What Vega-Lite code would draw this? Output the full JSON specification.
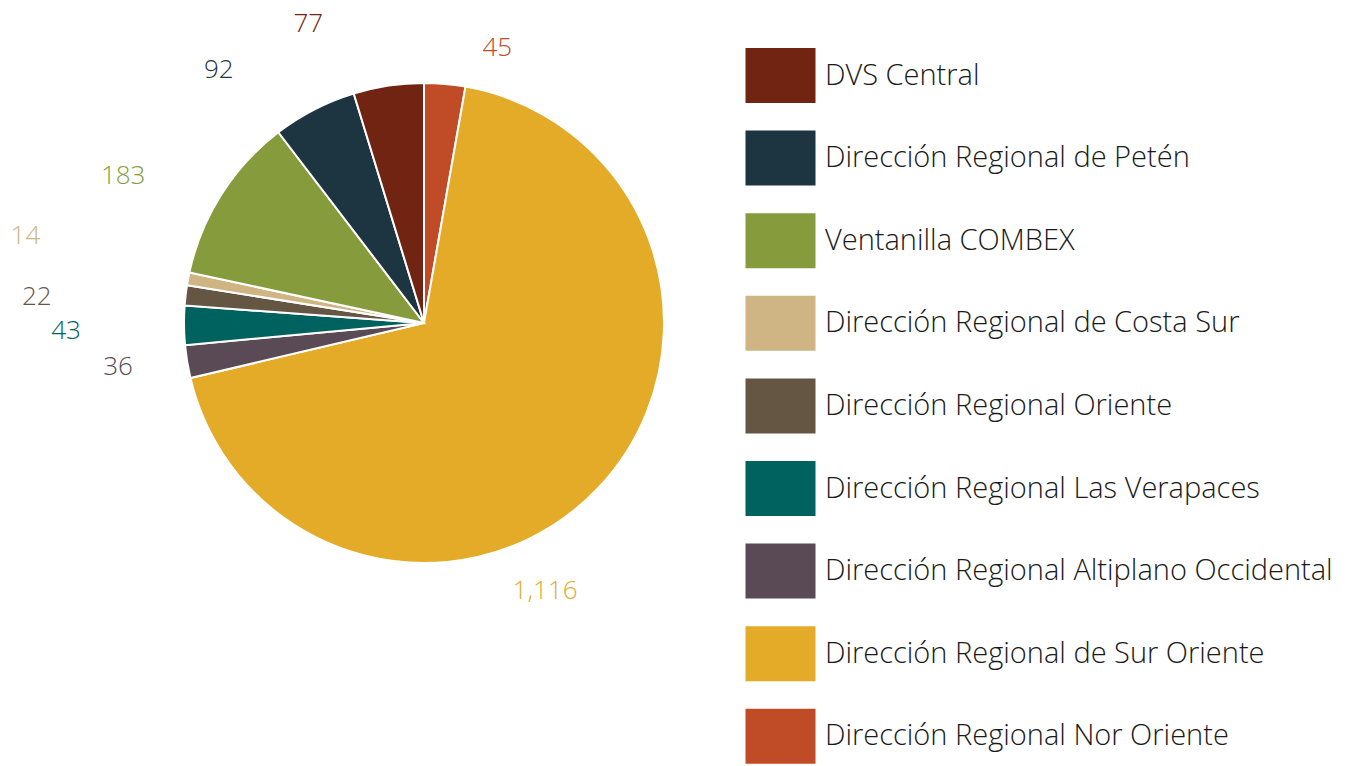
{
  "$schema": "https://vega.github.io/schema/vega-lite/v6.json",
  "width": 848,
  "height": 646,
  "autosize": {"type": "none"},
  "padding": {"left": 0, "top": 0, "right": 505, "bottom": 120},
  "background": "white",
  "view": {"stroke": null},
  "config": {"text": {"font": "Open Sans", "fontSize": 26, "fontWeight": 300}},
  "data": {
    "values": [
      {"oficina": "Dirección Regional Nor Oriente", "solicitudes": 45, "orden": 1},
      {"oficina": "Dirección Regional de Sur Oriente", "solicitudes": 1116, "orden": 2},
      {"oficina": "Dirección Regional Altiplano Occidental", "solicitudes": 36, "orden": 3},
      {"oficina": "Dirección Regional Las Verapaces", "solicitudes": 43, "orden": 4},
      {"oficina": "Dirección Regional Oriente", "solicitudes": 22, "orden": 5},
      {"oficina": "Dirección Regional de Costa Sur", "solicitudes": 14, "orden": 6},
      {"oficina": "Ventanilla COMBEX", "solicitudes": 183, "orden": 7},
      {"oficina": "Dirección Regional de Petén", "solicitudes": 92, "orden": 8},
      {"oficina": "DVS Central", "solicitudes": 77, "orden": 9}
    ]
  },
  "encoding": {
    "theta": {"field": "solicitudes", "type": "quantitative", "stack": true},
    "order": {"field": "orden", "type": "quantitative"},
    "color": {
      "field": "oficina",
      "type": "nominal",
      "scale": {
        "domain": ["DVS Central", "Dirección Regional de Petén", "Ventanilla COMBEX", "Dirección Regional de Costa Sur", "Dirección Regional Oriente", "Dirección Regional Las Verapaces", "Dirección Regional Altiplano Occidental", "Dirección Regional de Sur Oriente", "Dirección Regional Nor Oriente"],
        "range": ["#712411", "#1c3540", "#869c3c", "#cfb583", "#655644", "#00625f", "#594a55", "#e3ab28", "#c04c27"]
      },
      "legend": {
        "orient": "none",
        "legendX": 753,
        "legendY": 48,
        "title": null,
        "padding": 0,
        "symbolType": "M-1.273,-1H1.273V1H-1.273Z",
        "symbolSize": 3025,
        "symbolStrokeWidth": 0,
        "symbolOpacity": 1,
        "labelFont": "Open Sans",
        "labelFontSize": 29,
        "labelFontWeight": 300,
        "labelColor": "#1a1a1a",
        "labelOffset": 17,
        "labelLimit": 0,
        "rowPadding": 27.6
      }
    }
  },
  "layer": [
    {
      "mark": {"type": "arc", "outerRadius": 240, "stroke": "white", "strokeWidth": 2}
    },
    {
      "mark": {"type": "text", "radius": 285, "thetaOffset": 0.173},
      "encoding": {"text": {"condition": {"test": "datum.oficina !== 'Dirección Regional Nor Oriente'", "value": ""}, "field": "solicitudes", "type": "quantitative", "format": ","}}
    },
    {
      "mark": {"type": "text", "radius": 294, "thetaOffset": 0.39},
      "encoding": {"text": {"condition": {"test": "datum.oficina !== 'Dirección Regional de Sur Oriente'", "value": ""}, "field": "solicitudes", "type": "quantitative", "format": ","}}
    },
    {
      "mark": {"type": "text", "radius": 309, "thetaOffset": 0.02},
      "encoding": {"text": {"condition": {"test": "datum.oficina !== 'Dirección Regional Altiplano Occidental'", "value": ""}, "field": "solicitudes", "type": "quantitative", "format": ","}}
    },
    {
      "mark": {"type": "text", "radius": 358, "thetaOffset": -0.012},
      "encoding": {"text": {"condition": {"test": "datum.oficina !== 'Dirección Regional Las Verapaces'", "value": ""}, "field": "solicitudes", "type": "quantitative", "format": ","}}
    },
    {
      "mark": {"type": "text", "radius": 388, "thetaOffset": -0.049},
      "encoding": {"text": {"condition": {"test": "datum.oficina !== 'Dirección Regional Oriente'", "value": ""}, "field": "solicitudes", "type": "quantitative", "format": ","}}
    },
    {
      "mark": {"type": "text", "radius": 408, "thetaOffset": 0.03},
      "encoding": {"text": {"condition": {"test": "datum.oficina !== 'Dirección Regional de Costa Sur'", "value": ""}, "field": "solicitudes", "type": "quantitative", "format": ","}}
    },
    {
      "mark": {"type": "text", "radius": 335, "thetaOffset": -0.11},
      "encoding": {"text": {"condition": {"test": "datum.oficina !== 'Ventanilla COMBEX'", "value": ""}, "field": "solicitudes", "type": "quantitative", "format": ","}}
    },
    {
      "mark": {"type": "text", "radius": 326, "thetaOffset": -0.206},
      "encoding": {"text": {"condition": {"test": "datum.oficina !== 'Dirección Regional de Petén'", "value": ""}, "field": "solicitudes", "type": "quantitative", "format": ","}}
    },
    {
      "mark": {"type": "text", "radius": 321, "thetaOffset": -0.22},
      "encoding": {"text": {"condition": {"test": "datum.oficina !== 'DVS Central'", "value": ""}, "field": "solicitudes", "type": "quantitative", "format": ","}}
    }
  ]
}
